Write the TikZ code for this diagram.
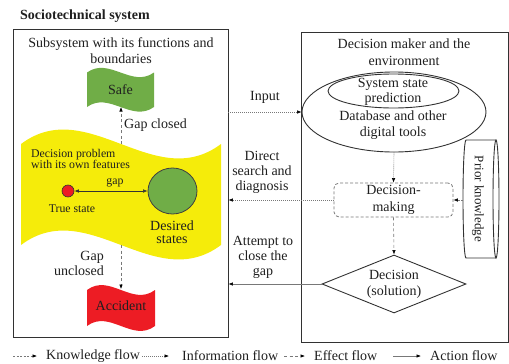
\documentclass[tikz,border=0pt]{standalone}
\usepackage{fontspec}
\setmainfont{Liberation Serif}
\usetikzlibrary{arrows.meta,shapes.geometric}
\definecolor{ygreen}{RGB}{112,173,71}
\definecolor{wyellow}{RGB}{245,236,10}
\definecolor{fred}{RGB}{237,28,36}
\definecolor{lgray}{RGB}{120,120,120}
\definecolor{bline}{RGB}{50,50,50}
\begin{document}
\begin{tikzpicture}[x=1pt,y=-1pt,
 txt/.style={font=\fontsize{14}{16.5}\selectfont, align=center, inner sep=0pt, text=black!88},
 smalltxt/.style={font=\fontsize{11.8}{11}\selectfont, align=center, inner sep=0pt, text=black!88},
 flowbase/.style={draw=lgray, line width=0.6pt, -{Latex[length=4.5pt,width=3.5pt,black]}},
 knowflow/.style={flowbase, dash pattern=on 2pt off 1.5pt},
 infoflow/.style={flowbase, dash pattern=on 1pt off 1pt},
 effflow/.style={flowbase, dash pattern=on 3pt off 2.5pt},
 actflow/.style={flowbase},
 boxline/.style={draw=bline, line width=0.9pt}]
\useasboundingbox (0,0) rectangle (509,364);

% title
\node[txt, font=\bfseries\fontsize{14}{16}\selectfont, anchor=west] (title) at (20,16) {Sociotechnical system};

% left box
\node[boxline, minimum width=215, minimum height=308, inner sep=0] (lbox) at (120.5,183) {};
\node[txt] (subt) at (121,50.5) {Subsystem with its functions and\\boundaries};

% yellow wave
\fill[wyellow] (21,144) .. controls (87.7,94) and (154.3,194) .. (221,144) -- (221,245)
  .. controls (154.3,295) and (87.7,195) .. (21,245) -- cycle;

% safe flag
\fill[ygreen] (87,72.5) .. controls (109.3,56.5) and (131.7,88.5) .. (154,72.5) -- (154,107)
  .. controls (131.7,123) and (109.3,91) .. (87,107) -- cycle;
\node[txt] (safe) at (120.5,90) {Safe};

% accident flag
\fill[fred] (87,290) .. controls (109.7,273) and (132.3,307) .. (155,290) -- (155,326)
  .. controls (132.3,343) and (109.7,309) .. (87,326) -- cycle;
\node[txt] (acc) at (121,306) {Accident};

% inner items
\node[txt, font=\fontsize{11.8}{11}\selectfont, align=left, anchor=west] (dp) at (31,159) {Decision problem\\with its own features};
\node[circle, fill=fred, draw=bline, line width=0.6pt, minimum size=12, inner sep=0] (true) at (68,191) {};
\node[ellipse, fill=ygreen, draw=black!75, line width=0.8pt, minimum width=49, minimum height=46, inner sep=0] (des) at (172.5,191) {};
\draw[black!80, line width=0.6pt, {Latex[length=4.5pt,width=3.5pt]}-{Latex[length=4.5pt,width=3.5pt]}] (true) -- (des);
\node[smalltxt] (gaplbl) at (115,183) {gap};
\node[smalltxt] (truelbl) at (72,209) {True state};
\node[txt, font=\fontsize{14}{13}\selectfont] (deslbl) at (172,232) {Desired\\states};

% gap closed / unclosed
\coordinate (ytop) at (121,144);
\coordinate (safebot) at (121,107);
\draw[effflow] (ytop) -- (safebot);
\node[txt, anchor=west] (gclbl) at (124,125) {Gap closed};
\coordinate (ybot) at (121,245);
\coordinate (acctop) at (121,289);
\draw[effflow] (ybot) -- (acctop);
\node[txt, font=\fontsize{14}{15}\selectfont, align=right, anchor=east] (gulbl) at (104,263.5) {Gap\\unclosed};

% right box
\node[boxline, minimum width=207, minimum height=310, inner sep=0] (rbox) at (404.5,187) {};
\node[txt] (rtitle) at (404,52) {Decision maker and the\\environment};

\node[ellipse, boxline, minimum width=184, minimum height=80, inner sep=0] (db) at (394,112) {};
\node[ellipse, boxline, minimum width=131, minimum height=34, inner sep=0] (ssp) at (393.5,91) {};
\node[txt, font=\fontsize{14}{15}\selectfont] (ssptxt) at (393,91.5) {System state\\prediction};
\node[txt] (dbtxt) at (393,125) {Database and other\\digital tools};

\node[txt, draw=lgray, dash pattern=on 3pt off 2pt, line width=0.8pt, rounded corners=5pt,
  minimum width=119, minimum height=34, font=\fontsize{14}{16.5}\selectfont] (dm) at (393.5,200) {Decision-\\making};

% prior knowledge cylinder
\draw[boxline] (496,140) -- (466,140) arc[start angle=270, end angle=90, x radius=3, y radius=59] -- (496,258);
\draw[boxline] (496,199) ellipse[x radius=3, y radius=59];
\node[txt, rotate=-90, font=\fontsize{13}{15}\selectfont] (prior) at (478,199) {Prior knowledge};
\coordinate (pkl) at (463,200);

% decision diamond
\node[diamond, boxline, aspect=2.48, minimum width=144, minimum height=58, inner sep=0,
  font=\fontsize{14}{16}\selectfont, align=center, text=black!88] (dec) at (394,284) {Decision\\(solution)};

% flows
\draw[infoflow] (lbox.east |- db.west) -- (db.west);
\node[txt] (inlbl) at (265,97) {Input};
\draw[infoflow] (db.south) -- (dm.north);
\draw[infoflow] (dm.west) -- (lbox.east |- dm.west);
\node[txt, font=\fontsize{14}{15}\selectfont] (dslbl) at (262,172) {Direct\\search and\\diagnosis};
\draw[knowflow] (pkl) -- (dm.east);
\draw[effflow] (dm.south) -- (dec.north);
\draw[actflow] (dec.west) -- (lbox.east |- dec.west);
\node[txt, font=\fontsize{14}{15}\selectfont] (atlbl) at (263,257) {Attempt to\\close the\\gap};

% legend
\coordinate (k1) at (13,356); \coordinate (k2) at (37,356);
\draw[knowflow] (k1) -- (k2);
\node[txt, anchor=west] (klbl) at (46,356) {Knowledge flow};
\coordinate (i1) at (142,356); \coordinate (i2) at (169,356);
\draw[infoflow] (i1) -- (i2);
\node[txt, anchor=west] (ilbl) at (182,356) {Information flow};
\coordinate (e1) at (284,356); \coordinate (e2) at (305,356);
\draw[effflow] (e1) -- (e2);
\node[txt, anchor=west] (elbl) at (314,356) {Effect flow};
\coordinate (a1) at (393,356); \coordinate (a2) at (421,356);
\draw[actflow] (a1) -- (a2);
\node[txt, anchor=west] (albl) at (430,356) {Action flow};
\end{tikzpicture}
\end{document}
